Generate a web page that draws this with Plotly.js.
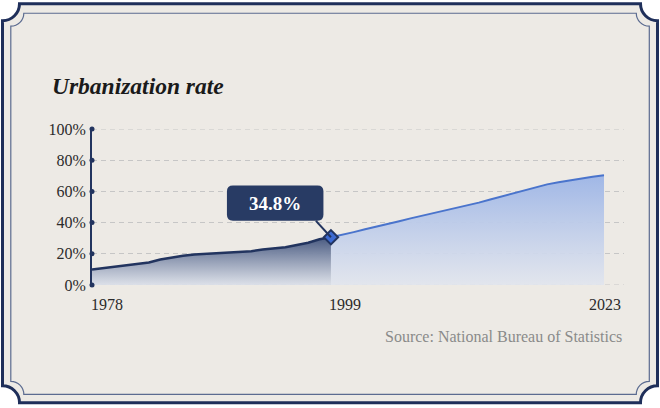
<!DOCTYPE html>
<html>
<head>
<meta charset="utf-8">
<script src="https://cdn.plot.ly/plotly-3.0.1.min.js"></script>
<style>
  html, body { margin: 0; padding: 0; background: #ffffff; }
  #chart { width: 660px; height: 408px; }
</style>
</head>
<body>
<div id="chart"></div>
<script>
// ---------------- data ----------------
const years = [1978,1979,1980,1981,1982,1983,1984,1985,1986,1987,1988,1989,1990,1991,1992,1993,
  1994,1995,1996,1997,1998,1999,2000,2001,2002,2003,2004,2005,2006,2007,2008,2009,2010,2011,
  2012,2013,2014,2015,2016,2017,2018,2019,2020,2021,2022,2023];
const rate = [9.9,10.8,11.7,12.6,13.5,14.4,16.4,17.7,18.7,19.6,20.1,20.5,20.9,21.3,21.7,22.7,
  23.5,24.2,25.7,27.1,29.3,30.6,32.1,33.9,35.7,37.3,39.0,40.9,42.7,44.4,46.0,47.6,49.2,51.0,
  52.8,54.8,56.7,58.6,60.6,62.8,64.5,65.9,67.2,68.3,69.4,70.4];
const highlightYear = 1999;
const highlightLabel = '34.8%';
const yTicks = [0, 20, 40, 60, 80, 100];
const yTickText = ['0%', '20%', '40%', '60%', '80%', '100%'];
const xLabelYears = [1978, 1999, 2023];
const xLabelText = ['1978', '1999', '2023'];
const titleText = 'Urbanization rate';
const sourceText = 'Source: National Bureau of Statistics';

// ---------------- styling / geometry ----------------
const W = 660, H = 408;
const M = { l: 92, r: 36, t: 128.7, b: 122.7 };
const plotW = W - M.l - M.r, plotH = H - M.t - M.b;
const xMax = 2024.758;
const SERIF = '"Liberation Serif", "Times New Roman", Times, serif';
const NAVY = '#22345f';
const BLUE = '#4a74cc';
const BG = '#edeae5';
const GRID = '#c6c6c6';

const hi = years.indexOf(highlightYear);
const xL = years.slice(0, hi + 1), yL = rate.slice(0, hi + 1);
const xR = years.slice(hi), yR = rate.slice(hi);

const pxPerYear = plotW / (xMax - years[0]);
const pxPerPct = plotH / 100;
const hx = years[hi], hy = rate[hi];
const dX = px => hx + px / pxPerYear;
const dY = py => hy - py / pxPerPct;

const PX = px => ((px - M.l) / plotW).toFixed(5);
const PY = py => ((H - M.b - py) / plotH).toFixed(5);
const pt = (x, y) => PX(x) + ',' + PY(y);

function notchedRect(x0, y0, x1, y1, r) {
  const k = 0.5523 * r;
  return 'M' + pt(x0, y0 + r) +
    ' C' + pt(x0 + k, y0 + r) + ' ' + pt(x0 + r, y0 + k) + ' ' + pt(x0 + r, y0) +
    ' L' + pt(x1 - r, y0) +
    ' C' + pt(x1 - r, y0 + k) + ' ' + pt(x1 - k, y0 + r) + ' ' + pt(x1, y0 + r) +
    ' L' + pt(x1, y1 - r) +
    ' C' + pt(x1 - k, y1 - r) + ' ' + pt(x1 - r, y1 - k) + ' ' + pt(x1 - r, y1) +
    ' L' + pt(x0 + r, y1) +
    ' C' + pt(x0 + r, y1 - k) + ' ' + pt(x0 + k, y1 - r) + ' ' + pt(x0, y1 - r) + ' Z';
}

function roundedBox(l, t, r, b, rad) {
  const X = dX, Y = dY;
  return 'M' + X(l + rad) + ',' + Y(t) +
    ' L' + X(r - rad) + ',' + Y(t) + ' Q' + X(r) + ',' + Y(t) + ' ' + X(r) + ',' + Y(t + rad) +
    ' L' + X(r) + ',' + Y(b - rad) + ' Q' + X(r) + ',' + Y(b) + ' ' + X(r - rad) + ',' + Y(b) +
    ' L' + X(l + rad) + ',' + Y(b) + ' Q' + X(l) + ',' + Y(b) + ' ' + X(l) + ',' + Y(b - rad) +
    ' L' + X(l) + ',' + Y(t + rad) + ' Q' + X(l) + ',' + Y(t) + ' ' + X(l + rad) + ',' + Y(t) + ' Z';
}
const box = { l: -104, t: -52, r: -7.5, b: -16.5 };

const traces = [
  {
    x: xR, y: yR, type: 'scatter', mode: 'lines', fill: 'tozeroy',
    line: { color: BLUE, width: 2 },
    fillcolor: 'rgba(168,188,230,0.8)',
    fillgradient: { type: 'vertical', start: 0, stop: Math.max(...yR),
      colorscale: [[0, 'rgba(225,229,238,0.9)'], [1, 'rgba(160,183,230,1)']] },
    hoverinfo: 'skip', showlegend: false
  },
  {
    x: xL, y: yL, type: 'scatter', mode: 'lines', fill: 'tozeroy',
    line: { color: NAVY, width: 2.5 },
    fillcolor: 'rgba(90,105,140,0.8)',
    fillgradient: { type: 'vertical', start: 0, stop: Math.max(...yL),
      colorscale: [[0, 'rgba(218,223,233,0.9)'], [1, 'rgba(72,89,128,1)']] },
    hoverinfo: 'skip', showlegend: false
  },
  {
    x: yTicks.map(() => years[0]), y: yTicks, type: 'scatter', mode: 'markers',
    marker: { color: NAVY, size: 5 }, cliponaxis: false, hoverinfo: 'skip', showlegend: false
  },
  {
    x: [hx], y: [hy], type: 'scatter', mode: 'markers', cliponaxis: false,
    marker: { symbol: 'diamond', size: 11, color: '#3c6ad2', line: { color: NAVY, width: 2 } },
    hoverinfo: 'skip', showlegend: false
  }
];

const annotations = [
  {
    x: dX((box.l + box.r) / 2), y: dY((box.t + box.b) / 2), xref: 'x', yref: 'y',
    text: '<b>' + highlightLabel + '</b>', showarrow: false,
    font: { family: SERIF, size: 19, color: '#ffffff' }
  },
  {
    x: 1, y: (H - M.b - 337) / plotH, xref: 'paper', yref: 'paper',
    xanchor: 'right', yanchor: 'middle', showarrow: false, text: sourceText,
    font: { family: SERIF, size: 16, color: '#8a8a8a' }
  }
];
const xAnchors = ['left', 'left', 'center'];
xLabelYears.forEach((yr, i) => annotations.push({
  x: yr, y: 0, xref: 'x', yref: 'y', yshift: -9, xanchor: xAnchors[i], yanchor: 'top',
  xshift: i === 0 ? -3 : (i === 1 ? -4 : 1),
  text: xLabelText[i], showarrow: false, font: { family: SERIF, size: 16, color: '#2b2b2b' }
}));

const shapes = [
  { type: 'path', xref: 'paper', yref: 'paper', layer: 'below',
    path: notchedRect(2.5, 3, 657.5, 403.5, 17),
    fillcolor: BG, line: { color: '#1f2f5a', width: 3 } },
  { type: 'path', xref: 'paper', yref: 'paper', layer: 'below',
    path: notchedRect(10.8, 12.5, 649.3, 395, 13),
    fillcolor: 'rgba(0,0,0,0)', line: { color: '#5b6b90', width: 1.2 } },
  { type: 'path', xref: 'x', yref: 'y', layer: 'above',
    path: roundedBox(box.l, box.t, box.r, box.b, 6),
    fillcolor: '#283b64', line: { width: 0 } },
  { type: 'line', xref: 'x', yref: 'y', layer: 'above',
    x0: dX(-15), y0: dY(-16.5), x1: hx, y1: hy,
    line: { color: NAVY, width: 2 } }
];
// edge gridlines (0% and 100%) that Plotly omits at the plot borders
[yTicks[0], yTicks[yTicks.length - 1]].forEach(v => shapes.push({
  type: 'line', xref: 'paper', yref: 'y', layer: 'below', x0: 0, x1: 1, y0: v, y1: v,
  line: { color: GRID, width: 1, dash: '5px,4px' }
}));

const layout = {
  width: W, height: H, margin: M,
  paper_bgcolor: '#ffffff', plot_bgcolor: 'rgba(0,0,0,0)',
  title: { text: '<b><i>' + titleText + '</i></b>', x: 52 / W, xanchor: 'left',
    xref: 'container', yref: 'container', y: 1 - 86 / H, yanchor: 'middle',
    font: { family: SERIF, size: 23.5, color: '#1a1a1a' } },
  xaxis: { range: [years[0], xMax], showgrid: false, zeroline: false, showline: false,
    showticklabels: false, ticks: '', fixedrange: true },
  yaxis: { range: [0, 100], tickvals: yTicks, ticktext: yTickText, ticks: '',
    showline: true, linecolor: NAVY, linewidth: 2, zeroline: false,
    showgrid: true, gridcolor: GRID, gridwidth: 1, griddash: '5px,4px',
    tickfont: { family: SERIF, size: 16, color: '#2b2b2b' }, ticklabelstandoff: 1,
    fixedrange: true },
  shapes: shapes,
  annotations: annotations,
  showlegend: false
};

Plotly.newPlot('chart', traces, layout, { staticPlot: true, displayModeBar: false });
</script>
</body>
</html>
